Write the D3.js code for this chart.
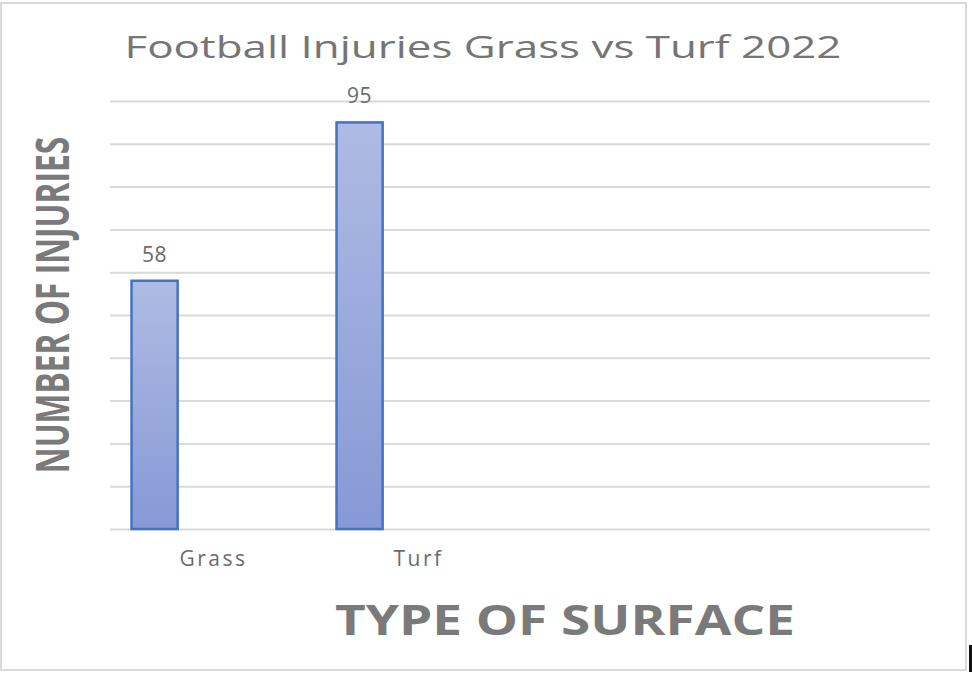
<!DOCTYPE html>
<html>
<head>
<meta charset="utf-8">
<script src="https://cdn.jsdelivr.net/npm/d3@7"></script>
<style>
  body { margin: 0; background: #fff; }
</style>
</head>
<body>
<svg id="chart"></svg>
<script>
// data
const categories = ["Grass", "Turf", "", ""];
const injuries = [58, 95, null, null];
const yTicks = [0, 10, 20, 30, 40, 50, 60, 70, 80, 90, 100];

const width = 972;
const height = 675;
const margin = ({ top: 101, right: 42, bottom: 146, left: 110 });

const svg = d3.select("#chart")
    .attr("width", width)
    .attr("height", height);

// chart frame
svg.append("rect")
    .attr("x", 1).attr("y", 3)
    .attr("width", 965).attr("height", 667)
    .attr("fill", "#fff")
    .attr("stroke", "#d9d9d9")
    .attr("stroke-width", 2);

svg.append("rect")
    .attr("x", 969).attr("y", 645)
    .attr("width", 3).attr("height", 27)
    .attr("fill", "#111");

const xScale = d3.scaleBand()
    .domain(categories.map((c, i) => i))
    .range([margin.left, width - margin.right])
    .padding(0);

const yScale = d3.scaleLinear()
    .domain([0, 100])
    .range([height - margin.bottom, margin.top]);

const defs = svg.append("defs");
const grad = defs.append("linearGradient")
    .attr("id", "barFill")
    .attr("x1", 0).attr("y1", 0).attr("x2", 0).attr("y2", 1);
grad.append("stop").attr("offset", "0%").attr("stop-color", "#aebbe2");
grad.append("stop").attr("offset", "100%").attr("stop-color", "#8699d6");

// gridlines
svg.append("g")
    .attr("transform", `translate(${margin.left},0)`)
    .call(d3.axisLeft(yScale).tickValues(yTicks).tickSize(-(width - margin.left - margin.right)).tickFormat(""))
    .call(g => g.select(".domain").remove())
    .call(g => g.selectAll("line").attr("stroke", "#d9d9d9").attr("stroke-width", 2));

// x axis labels
svg.append("g")
    .attr("transform", `translate(0,${height - margin.bottom})`)
    .call(d3.axisBottom(xScale).tickSize(0).tickFormat(i => categories[i]))
    .call(g => g.select(".domain").remove())
    .call(g => g.selectAll("text")
        .attr("x", 1)
        .attr("y", 37)
        .attr("dy", 0)
        .attr("fill", "#6b6b6b")
        .attr("font-family", "'Open Sans', sans-serif")
        .attr("font-size", 21)
        .attr("letter-spacing", 2.5));

const barOffset = 0.105;
const barWidth = 0.225;
const bars = categories.map((c, i) => ({ i, value: injuries[i] })).filter(d => d.value != null);

svg.append("g")
    .selectAll("rect")
    .data(bars)
    .enter()
    .append("rect")
    .attr("x", d => xScale(d.i) + xScale.bandwidth() * barOffset)
    .attr("y", d => yScale(d.value))
    .attr("width", xScale.bandwidth() * barWidth)
    .attr("height", d => yScale(0) - yScale(d.value))
    .attr("fill", "url(#barFill)")
    .attr("stroke", "#4472c4")
    .attr("stroke-width", 2.5);

svg.append("g")
    .selectAll("text")
    .data(bars)
    .enter()
    .append("text")
    .attr("x", d => xScale(d.i) + xScale.bandwidth() * (barOffset + barWidth / 2))
    .attr("y", d => yScale(d.value) - 19)
    .attr("text-anchor", "middle")
    .attr("fill", "#6b6b6b")
    .attr("font-family", "'Open Sans', sans-serif")
    .attr("font-size", 21)
    .attr("letter-spacing", 0.5)
    .text(d => d.value);

// title
svg.append("text")
    .attr("x", 483)
    .attr("y", 58)
    .attr("text-anchor", "middle")
    .attr("fill", "#757575")
    .attr("font-family", "'Open Sans', sans-serif")
    .attr("font-size", 31)
    .attr("textLength", 717)
    .attr("lengthAdjust", "spacingAndGlyphs")
    .text("Football Injuries Grass vs Turf 2022");

// axis titles
svg.append("text")
    .attr("x", 565)
    .attr("y", 635)
    .attr("text-anchor", "middle")
    .attr("fill", "#7a7a7a")
    .attr("font-family", "'Open Sans', sans-serif")
    .attr("font-weight", "bold")
    .attr("font-size", 42)
    .attr("textLength", 460)
    .attr("lengthAdjust", "spacingAndGlyphs")
    .text("TYPE OF SURFACE");

// y title: squeezed along its length like the original
svg.append("text")
    .attr("transform", "translate(69,305) rotate(-90) scale(0.69,1)")
    .attr("text-anchor", "middle")
    .attr("fill", "#7a7a7a")
    .attr("font-family", "'Open Sans', sans-serif")
    .attr("font-weight", "bold")
    .attr("font-size", 46)
    .text("NUMBER OF INJURIES");
</script>
</body>
</html>
